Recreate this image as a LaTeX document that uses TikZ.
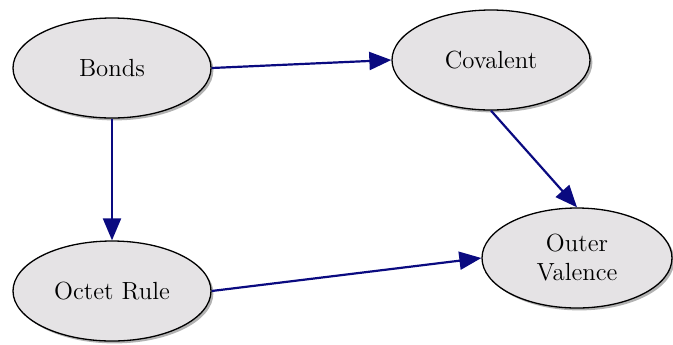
\documentclass[tikz,border=0pt]{standalone}
\usetikzlibrary{shapes.geometric,arrows.meta,shadows}
\definecolor{bubble}{RGB}{229,227,229}
\definecolor{navy}{RGB}{10,10,128}
\tikzset{
	concept/.style={ellipse, draw=black, line width=0.65pt, fill=bubble, inner sep=0pt,
		minimum width=99pt, minimum height=50pt, font=\fontsize{12.4}{14.5}\selectfont, align=center,
		drop shadow={shadow xshift=1.2pt, shadow yshift=-1.2pt, opacity=0.3, fill=black}},
	link/.style={draw=navy, line width=1.1pt, -{Triangle[length=11pt,width=9pt]}}
}
\begin{document}
	\begin{tikzpicture}[x=0.5pt,y=-0.5pt]
	\useasboundingbox (0,0) rectangle (673,344);
	\node[concept] (bonds) at (112,68) {Bonds};
	\node[concept] (covalent) at (491,60) {Covalent};
	\node[concept] (octet) at (112,291) {Octet Rule};
	\node[concept, minimum width=95pt] (outer) at (577,258) {Outer\\Valence};
	\draw[link] (bonds.east) -- (covalent.west);
	\draw[link] (bonds.south) -- (octet.north);
	\draw[link] (covalent.south) -- (outer.north);
	\draw[link] (octet.east) -- (outer.west);
	\end{tikzpicture}
\end{document}
